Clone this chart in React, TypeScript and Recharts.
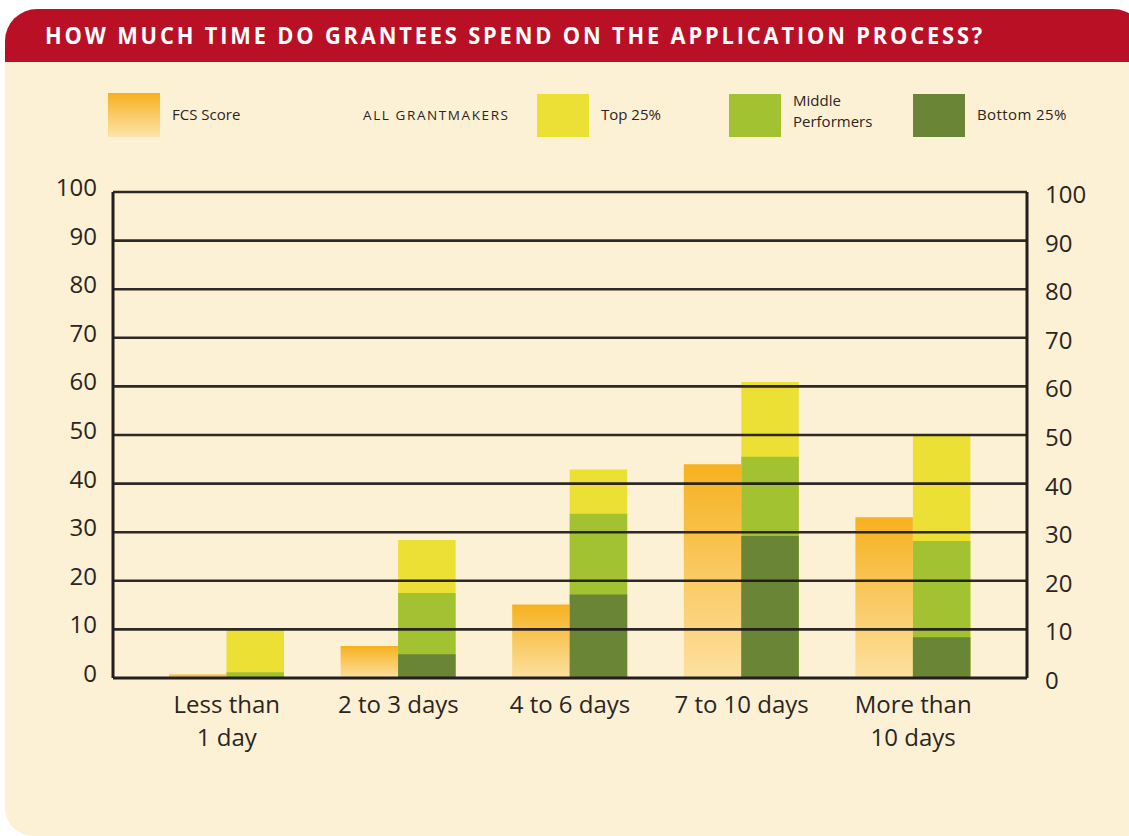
import React from "react";
import { ComposedChart, Bar, Line, XAxis, YAxis, ReferenceLine } from "recharts";

const categories = ["Less than\n1 day", "2 to 3 days", "4 to 6 days", "7 to 10 days", "More than\n10 days"];
const fcsScore = [0.7, 6.6, 15.1, 44.0, 33.1];
const top25 = [9.9, 28.4, 42.9, 60.9, 49.8];
const middlePerformers = [1.2, 17.5, 33.8, 45.5, 28.2];
const bottom25 = [0, 4.9, 17.2, 29.2, 8.4];
const yTicks = [0, 10, 20, 30, 40, 50, 60, 70, 80, 90, 100];
const gridValues = [10, 20, 30, 40, 50, 60, 70, 80, 90, 100];

const data = categories.map((cat, i) => ({
  cat,
  fcs: fcsScore[i],
  top: top25[i],
  middle: middlePerformers[i],
  bottom: bottom25[i],
}));

const FONT = "'Open Sans', sans-serif";
const TEXT = "#2b2522";

const XTick = (props: any) => {
  const { x, y, payload } = props;
  const lines = String(payload.value).split("\n");
  return (
    <text x={x} y={y} textAnchor="middle" fontFamily={FONT} fontSize={24} fill={TEXT}>
      {lines.map((l, i) => (
        <tspan key={i} x={x} dy={i === 0 ? 35 : 33}>
          {l}
        </tspan>
      ))}
    </text>
  );
};

const LeftTick = (props: any) => {
  const { x, y, payload } = props;
  return (
    <text x={x} y={y} dy={4} textAnchor="end" fontFamily={FONT} fontSize={24} fill={TEXT}>
      {payload.value}
    </text>
  );
};

const RightTick = (props: any) => {
  const { x, y, payload } = props;
  return (
    <text x={x} y={y} dy={11} textAnchor="start" fontFamily={FONT} fontSize={24} fill={TEXT}>
      {payload.value}
    </text>
  );
};

const swatch = (left: number, bg: string): React.CSSProperties => ({
  position: "absolute",
  left,
  top: 94,
  width: 52,
  height: 43,
  background: bg,
});

const label = (left: number, top: number, size = 15): React.CSSProperties => ({
  position: "absolute",
  left,
  top,
  fontFamily: FONT,
  fontSize: size,
  color: TEXT,
  lineHeight: "21px",
  whiteSpace: "nowrap",
});

export default function App() {
  return (
    <div
      style={{
        position: "absolute",
        left: 0,
        top: 0,
        width: 1129,
        height: 836,
        overflow: "hidden",
        background: "#ffffff",
      }}
    >
      <div
        style={{
          position: "absolute",
          left: 5,
          top: 60,
          width: 1140,
          height: 776,
          background: "#fdf1d5",
          borderBottomLeftRadius: 28,
        }}
      />
      <div
        style={{
          position: "absolute",
          left: 5,
          top: 9,
          width: 1140,
          height: 53,
          background: "#b91026",
          borderTopLeftRadius: 32,
          borderTopRightRadius: 32,
        }}
      />
      <svg style={{ position: "absolute", left: 0, top: 0 }} width={1129} height={70}>
        <text
          x={45}
          y={44}
          fontFamily={FONT}
          fontWeight={700}
          fontSize={23}
          fill="#ffffff"
          letterSpacing={3}
          textLength={940}
          lengthAdjust="spacingAndGlyphs"
        >
          HOW MUCH TIME DO GRANTEES SPEND ON THE APPLICATION PROCESS?
        </text>
      </svg>

      {/* Legend */}
      <div style={{ ...swatch(108, "linear-gradient(to bottom, #f6b11f, #fde4aa)"), top: 93, height: 44 }} />
      <div style={label(172, 104)}>FCS Score</div>
      <div style={{ ...label(363, 105, 13.5), letterSpacing: 1.6 }}>ALL GRANTMAKERS</div>
      <div style={swatch(537, "#ede034")} />
      <div style={label(601, 104)}>Top 25%</div>
      <div style={swatch(729, "#a3c232")} />
      <div style={label(793, 90)}>Middle</div>
      <div style={label(793, 111)}>Performers</div>
      <div style={swatch(913, "#6b8537")} />
      <div style={{ ...label(977, 104), letterSpacing: 0.4 }}>Bottom 25%</div>

      <div style={{ position: "absolute", left: 0, top: 0 }}>
        <ComposedChart
          width={1129}
          height={836}
          data={data}
          margin={{ top: 192, right: 42, bottom: 88, left: 53 }}
          barGap={0}
          barSize={57.5}
        >
          <defs>
            <linearGradient id="fcsGrad" x1="0" y1="0" x2="0" y2="1">
              <stop offset="0%" stopColor="#f6b11f" />
              <stop offset="100%" stopColor="#fde0a0" />
            </linearGradient>
          </defs>
          <XAxis
            xAxisId="a"
            dataKey="cat"
            height={70}
            padding={{ left: 28, right: 28 }}
            axisLine={{ stroke: "#231f1e", strokeWidth: 3 }}
            tickLine={false}
            tickSize={0}
            tickMargin={0}
            tick={<XTick />}
            interval={0}
          />
          <XAxis xAxisId="b" dataKey="cat" hide padding={{ left: 28, right: 28 }} />
          <XAxis xAxisId="c" dataKey="cat" hide padding={{ left: 28, right: 28 }} />
          <YAxis
            yAxisId="l"
            orientation="left"
            width={60}
            domain={[0, 100]}
            ticks={yTicks}
            axisLine={{ stroke: "#231f1e", strokeWidth: 3 }}
            tickLine={false}
            tickSize={0}
            tickMargin={16}
            tick={<LeftTick />}
            interval={0}
          />
          <YAxis
            yAxisId="r"
            orientation="right"
            width={60}
            domain={[0, 100]}
            ticks={yTicks}
            axisLine={{ stroke: "#231f1e", strokeWidth: 3 }}
            tickLine={false}
            tickSize={0}
            tickMargin={18}
            tick={<RightTick />}
            interval={0}
          />
          <Bar xAxisId="a" yAxisId="l" dataKey="fcs" fill="url(#fcsGrad)" isAnimationActive={false} />
          <Bar xAxisId="a" yAxisId="l" dataKey="top" fill="#ede034" isAnimationActive={false} />
          <Bar xAxisId="b" yAxisId="l" dataKey="placeholderB" legendType="none" isAnimationActive={false} />
          <Bar xAxisId="b" yAxisId="l" dataKey="middle" fill="#a3c232" isAnimationActive={false} />
          <Bar xAxisId="c" yAxisId="l" dataKey="placeholderC" legendType="none" isAnimationActive={false} />
          <Bar xAxisId="c" yAxisId="l" dataKey="bottom" fill="#6b8537" isAnimationActive={false} />
          <Line
            xAxisId="a"
            yAxisId="r"
            dataKey="top"
            stroke="none"
            strokeOpacity={0}
            dot={false}
            activeDot={false}
            legendType="none"
            isAnimationActive={false}
          />
          {gridValues.map((v) => (
            <ReferenceLine
              key={v}
              xAxisId="a"
              yAxisId="l"
              y={v}
              stroke="#1c1817"
              strokeWidth={2.6}
              strokeOpacity={0.92}
            />
          ))}
        </ComposedChart>
      </div>
    </div>
  );
}
